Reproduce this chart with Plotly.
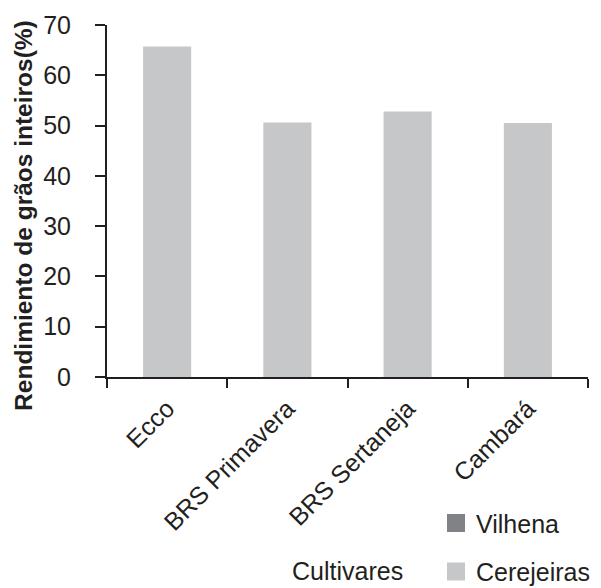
import plotly.graph_objects as go

cultivares = ["Ecco", "BRS Primavera", "BRS Sertaneja", "Cambará"]
cerejeiras = [65.7, 50.6, 52.8, 50.5]
vilhena = [None, None, None, None]
y_ticks = [0, 10, 20, 30, 40, 50, 60, 70]

INK = "#231f20"
FONT = "Liberation Sans, Arial, sans-serif"
COLOR_CEREJEIRAS = "#c6c7c9"
COLOR_VILHENA = "#808285"
FS = 25

fig = go.Figure()

# Cerejeiras bars
fig.add_trace(go.Bar(
    x=cultivares, y=cerejeiras, name="Cerejeiras",
    marker=dict(color=COLOR_CEREJEIRAS, line=dict(width=0)),
    width=0.4, showlegend=False,
))
# Vilhena bars (no values)
fig.add_trace(go.Bar(
    x=cultivares, y=vilhena, name="Vilhena",
    marker=dict(color=COLOR_VILHENA), width=0.4, showlegend=False,
))

# legend entries with larger square swatches
for name, color, grp in [("Vilhena", COLOR_VILHENA, "a"), ("Cerejeiras", COLOR_CEREJEIRAS, "b")]:
    fig.add_trace(go.Scatter(
        x=[None], y=[None], mode="markers", name=name, legendgroup=grp,
        marker=dict(symbol="square", size=16, color=color, line=dict(color=color, width=2)),
    ))

fig.update_layout(
    width=601, height=588,
    margin=dict(l=107, r=13, t=24.5, b=211, autoexpand=False),
    paper_bgcolor="white", plot_bgcolor="white",
    barmode="overlay",
    font=dict(family=FONT, size=FS, color=INK),
    legend=dict(
        x=0.684, xanchor="left", y=-0.35, yanchor="top",
        traceorder="grouped", tracegroupgap=13, itemwidth=30,
        font=dict(size=FS, color=INK), bgcolor="rgba(0,0,0,0)",
    ),
    xaxis=dict(
        type="category", showline=True, linecolor=INK, linewidth=2,
        ticks="outside", tickson="boundaries", ticklen=9, tickwidth=2, tickcolor=INK,
        tickangle=-45, showgrid=False, zeroline=False, automargin=False,
        ticklabelstandoff=5,
        tickfont=dict(size=FS, color=INK),
    ),
    yaxis=dict(
        range=[0, 70], tickvals=y_ticks, showline=True, linecolor=INK, linewidth=2,
        ticks="outside", ticklen=10, tickwidth=2, tickcolor=INK, automargin=False,
        ticklabelstandoff=19,
        showgrid=False, zeroline=False, tickfont=dict(size=FS, color=INK),
    ),
    annotations=[
        dict(text="<b>Rendimiento de grãos inteiros(%)</b>", xref="paper", yref="paper",
             x=-0.175, y=0.46, xanchor="center", yanchor="middle", textangle=-90,
             showarrow=False, font=dict(size=24.5, color=INK, family=FONT)),
        dict(text="Cultivares", xref="paper", yref="paper",
             x=0.5, y=-0.55, xanchor="center", yanchor="middle",
             showarrow=False, font=dict(size=FS, color=INK, family=FONT)),
    ],
)

fig.write_html("out.html")
